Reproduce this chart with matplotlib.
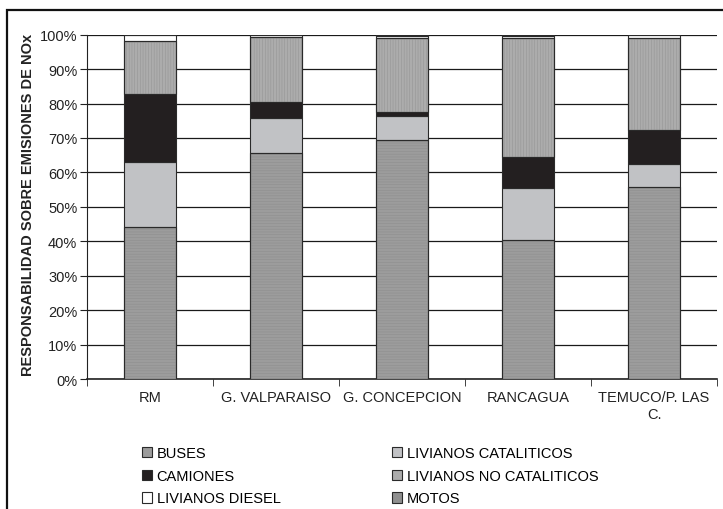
import matplotlib
matplotlib.use("Agg")
import matplotlib.pyplot as plt
from matplotlib.patches import Rectangle, Patch
import numpy as np

plt.rcParams['font.family'] = ['Liberation Sans', 'DejaVu Sans']
plt.rcParams['hatch.linewidth'] = 0.4

categories = ["RM", "G. VALPARAISO", "G. CONCEPCION", "RANCAGUA", "TEMUCO/P. LAS\nC."]

buses = [44.1, 65.6, 69.5, 40.4, 55.9]
livianos_cat = [18.8, 10.1, 6.8, 15.1, 6.6]
camiones = [19.9, 4.8, 1.2, 8.9, 9.7]
livianos_no_cat = [15.5, 18.8, 21.4, 34.5, 26.9]
livianos_diesel = [1.5, 0.5, 0.8, 0.8, 0.7]
motos = [0.2, 0.2, 0.3, 0.3, 0.2]

series = [
    ("BUSES", buses, "#9c9c9c", "------", "#8e8e8e"),
    ("LIVIANOS CATALITICOS", livianos_cat, "#c1c2c5", None, None),
    ("CAMIONES", camiones, "#231f20", None, None),
    ("LIVIANOS NO CATALITICOS", livianos_no_cat, "#acacac", "||||||", "#959595"),
    ("LIVIANOS DIESEL", livianos_diesel, "#ffffff", None, None),
    ("MOTOS", motos, "#8f8f8f", None, None),
]

fig = plt.figure(figsize=(7.23, 5.10), dpi=100)
ax = fig.add_axes([87 / 723, 1 - 380 / 510, (717 - 87) / 723, (380 - 35.7) / 510])

x = np.arange(len(categories))
bottom = np.zeros(len(categories))
handles = {}
for name, vals, color, hatch, hcol in series:
    vals = np.array(vals, dtype=float)
    ax.bar(x, vals, width=0.42, bottom=bottom, color=color,
           edgecolor="#2a2a2a", linewidth=0.8, zorder=3)
    if hatch:
        ax.bar(x, vals, width=0.42, bottom=bottom, color="none",
               edgecolor=hcol, hatch=hatch, linewidth=0, zorder=3.5)
        ax.bar(x, vals, width=0.42, bottom=bottom, color="none",
               edgecolor="#2a2a2a", linewidth=0.8, zorder=3.6)
    handles[name] = Patch(facecolor=color, edgecolor="#2a2a2a", linewidth=0.8)
    bottom += vals

ax.set_xlim(-0.5, len(categories) - 0.5)
ax.set_ylim(0, 100)
ax.set_yticks(np.arange(0, 101, 10))
ax.set_yticklabels([f"{v}%" for v in range(0, 101, 10)], fontsize=10.5, color="#222222")
ax.yaxis.grid(True, color="#1a1a1a", linewidth=0.9, zorder=0)
ax.set_axisbelow(True)

ax.set_xticks(x)
ax.set_xticklabels(categories, fontsize=10.5, color="#222222", linespacing=1.3)
ax.set_xticks(np.arange(-0.5, len(categories)), minor=True)
ax.tick_params(axis="x", which="major", length=0, pad=8)
ax.tick_params(axis="x", which="minor", length=5, direction="out", color="#222222")
ax.tick_params(axis="y", length=5, direction="out", color="#222222", pad=2)

for s in ("top", "right"):
    ax.spines[s].set_visible(False)
ax.spines["left"].set_color("#222222")
ax.spines["bottom"].set_color("#222222")
ax.spines["bottom"].set_linewidth(1.2)

ax.set_ylabel("RESPONSABILIDAD SOBRE EMISIONES DE NOx", fontsize=10.5,
              fontweight="bold", color="#222222")
ax.yaxis.set_label_coords((35 - 87) / 630, (380 - 205) / 344.3)

legend_cols = [
    (["BUSES", "CAMIONES", "LIVIANOS DIESEL"], 142),
    (["LIVIANOS CATALITICOS", "LIVIANOS NO CATALITICOS", "MOTOS"], 392),
]
for names, left_px in legend_cols:
    fig.legend([handles[n] for n in names], names, loc="upper left",
               bbox_to_anchor=(left_px / 723, 1 - 447 / 510), ncol=1, frameon=False,
               fontsize=10.5, handlelength=0.7, handleheight=0.7, handletextpad=0.3,
               labelspacing=0.6, borderpad=0, borderaxespad=0)

fig.add_artist(Rectangle((7 / 723, -0.1), 1.2, 1 - 11 / 510 + 0.1,
                         transform=fig.transFigure, fill=False,
                         edgecolor="#111111", linewidth=1.6))

fig.savefig("out.png", dpi=100)
